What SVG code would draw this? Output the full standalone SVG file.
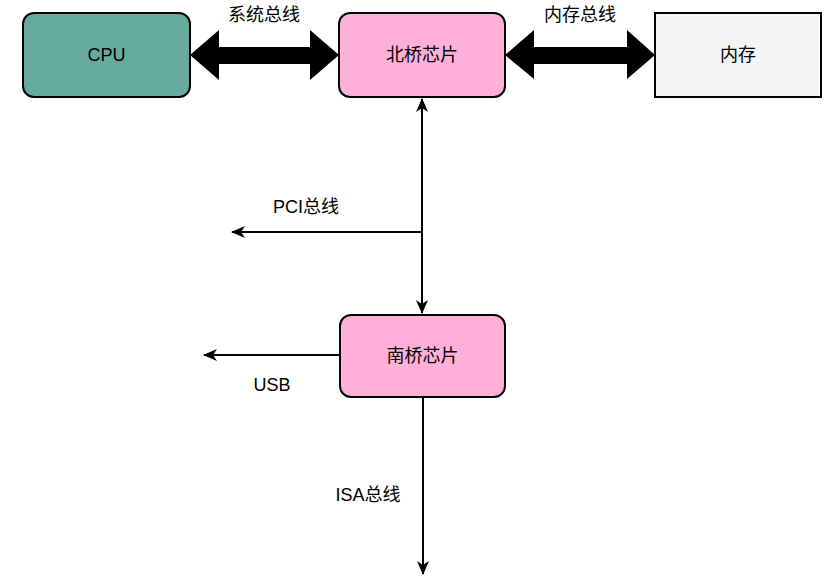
<svg xmlns="http://www.w3.org/2000/svg" width="840" height="579" viewBox="0 0 840 579">
<style>
.box{stroke:#000;stroke-width:2}
.t{font-family:"Liberation Sans","Noto Sans CJK SC",sans-serif;font-size:18px;fill:#000;text-anchor:middle;dominant-baseline:central}
.ln{stroke:#000;stroke-width:2;fill:none}
</style>
<defs>
<marker id="arr" markerWidth="14" markerHeight="12" viewBox="0 0 14 12" refX="13" refY="6" orient="auto-start-reverse" markerUnits="userSpaceOnUse">
<path d="M0,0 L14,6 L0,12 L4,6 Z" fill="#000"/>
</marker>
</defs>
<rect width="840" height="579" fill="#fff"/>
<g id="cpu"><rect class="box" x="23" y="13" width="167" height="84" rx="11" fill="#67ab9f"/><text class="t" x="106.5" y="55">CPU</text></g>
<g id="northbridge"><rect class="box" x="339" y="13" width="166" height="84" rx="11" fill="#ffb0d8"/><text class="t" x="422" y="55">北桥芯片</text></g>
<g id="memory"><rect class="box" x="655" y="13" width="166" height="84" fill="#f5f5f5"/><text class="t" x="738" y="55">内存</text></g>
<g id="southbridge"><rect class="box" x="340" y="315" width="165" height="82" rx="11" fill="#ffb0d8"/><text class="t" x="422.5" y="356">南桥芯片</text></g>
<g id="connectors">
<polygon points="190,55 219,30 219,47 310,47 310,30 339,55 310,80 310,64 219,64 219,80" fill="#000"/>
<polygon points="505,55 534,30 534,47 627,47 627,30 655,55 627,79 627,64 534,64 534,79" fill="#000"/>
<line class="ln" x1="422" y1="99" x2="422" y2="313" marker-start="url(#arr)" marker-end="url(#arr)"/>
<line class="ln" x1="422" y1="232" x2="232" y2="232" marker-end="url(#arr)"/>
<line class="ln" x1="340" y1="355" x2="204" y2="355" marker-end="url(#arr)"/>
<line class="ln" x1="423" y1="397" x2="423" y2="574" marker-end="url(#arr)"/>
</g>
<g id="labels">
<text class="t" x="264" y="15">系统总线</text>
<text class="t" x="580" y="15">内存总线</text>
<text class="t" x="306" y="207">PCI总线</text>
<text class="t" x="272" y="385">USB</text>
<text class="t" x="368" y="495">ISA总线</text>
</g>
</svg>
